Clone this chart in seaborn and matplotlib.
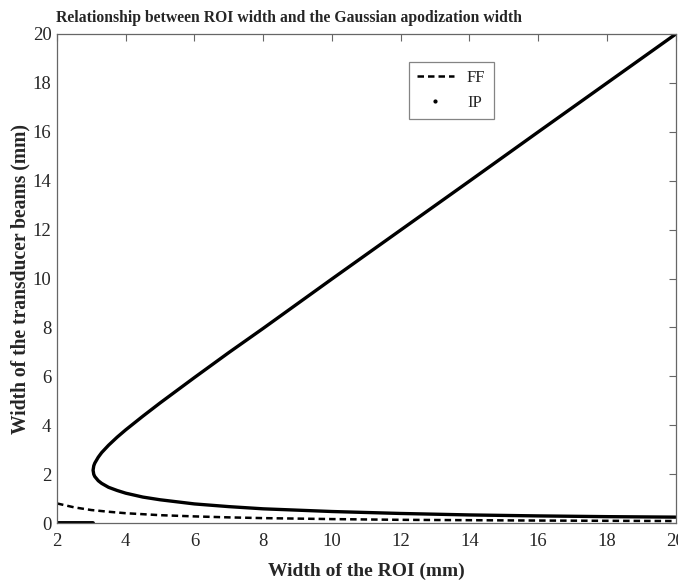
import matplotlib
matplotlib.use("Agg")
import matplotlib.pyplot as plt
from matplotlib.lines import Line2D
import seaborn as sns
import pandas as pd

# FF curve (dashed)
ff_x = [2, 2.5, 3, 3.5, 4, 5, 6, 7, 8, 10, 12, 14, 16, 18, 20]
ff_y = [0.80, 0.64, 0.53, 0.46, 0.40, 0.32, 0.27, 0.23, 0.20, 0.16, 0.13, 0.115, 0.10, 0.09, 0.08]

# IP curve: upper branch (x descending) then lower branch (x ascending)
ip_upper_x = [20, 18, 16, 14, 12, 10, 8, 7, 6, 5, 4.5, 4, 3.75, 3.5, 3.3, 3.2, 3.1, 3.07, 3.05]
ip_upper_y = [19.99, 17.99, 15.99, 13.98, 11.98, 9.98, 7.96, 6.97, 5.95, 4.91, 4.37, 3.81, 3.51, 3.18, 2.88, 2.69, 2.45, 2.34, 2.16]
ip_lower_x = [3.05, 3.07, 3.1, 3.2, 3.3, 3.5, 3.75, 4, 4.5, 5, 6, 7, 8, 10, 12, 14, 16, 18, 20]
ip_lower_y = [2.16, 1.99, 1.90, 1.73, 1.62, 1.46, 1.33, 1.22, 1.06, 0.95, 0.78, 0.67, 0.58, 0.47, 0.39, 0.33, 0.29, 0.26, 0.24]
# IP zero segment
ip_zero_x = [2, 3.05]
ip_zero_y = [0, 0]

sns.set_theme(style="white")
plt.rcParams['font.family'] = ['Liberation Serif', 'DejaVu Serif']

fig = plt.figure(figsize=(6.78, 5.84), dpi=100)
ax = fig.add_axes([57/678, 1 - 523/584, (675.5 - 57)/678, (523 - 34)/584])

ff_df = pd.DataFrame({"x": ff_x, "y": ff_y})
ip_df = pd.DataFrame({"x": ip_upper_x + ip_lower_x, "y": ip_upper_y + ip_lower_y})
ip0_df = pd.DataFrame({"x": ip_zero_x, "y": ip_zero_y})

dash = (0, (2.6, 1.6))
sns.lineplot(data=ff_df, x="x", y="y", ax=ax, color="black", linewidth=1.8,
             linestyle=dash, sort=False, estimator=None)
sns.lineplot(data=ip_df, x="x", y="y", ax=ax, color="black", linewidth=2.4,
             sort=False, estimator=None)
sns.lineplot(data=ip0_df, x="x", y="y", ax=ax, color="black", linewidth=2.8,
             sort=False, estimator=None)

ax.set_xlim(2, 20)
ax.set_ylim(0, 20)
ax.set_xticks(range(2, 21, 2))
ax.set_yticks(range(0, 21, 2))
ax.tick_params(direction="in", top=True, right=True, length=5, width=0.8,
               color="#666666", labelsize=13.5)
ax.tick_params(axis="x", pad=7)
ax.tick_params(axis="y", pad=4)
for s in ax.spines.values():
    s.set_color("#666666")
    s.set_linewidth(0.9)

ax.set_title("Relationship between ROI width and the Gaussian apodization width",
             fontsize=11.3, fontweight="bold", pad=9, x=0.375)
ax.set_xlabel("Width of the ROI (mm)", fontsize=14, fontweight="bold", labelpad=9)
ax.set_ylabel("Width of the transducer beams (mm)", fontsize=14.1, fontweight="bold", labelpad=1.5)

handles = [Line2D([0], [0], color="black", linestyle=dash, linewidth=1.8),
           Line2D([0], [0], color="black", linestyle="none", marker=".", markersize=4)]
leg = ax.legend(handles, ["FF", "IP"], loc="upper left", bbox_to_anchor=(0.555, 0.96),
                fontsize=12, frameon=True, fancybox=False, handlelength=2.2,
                borderpad=0.5, labelspacing=0.5)
leg.get_frame().set_edgecolor("#666666")
leg.get_frame().set_linewidth(0.9)

fig.savefig("out.png", dpi=100)
